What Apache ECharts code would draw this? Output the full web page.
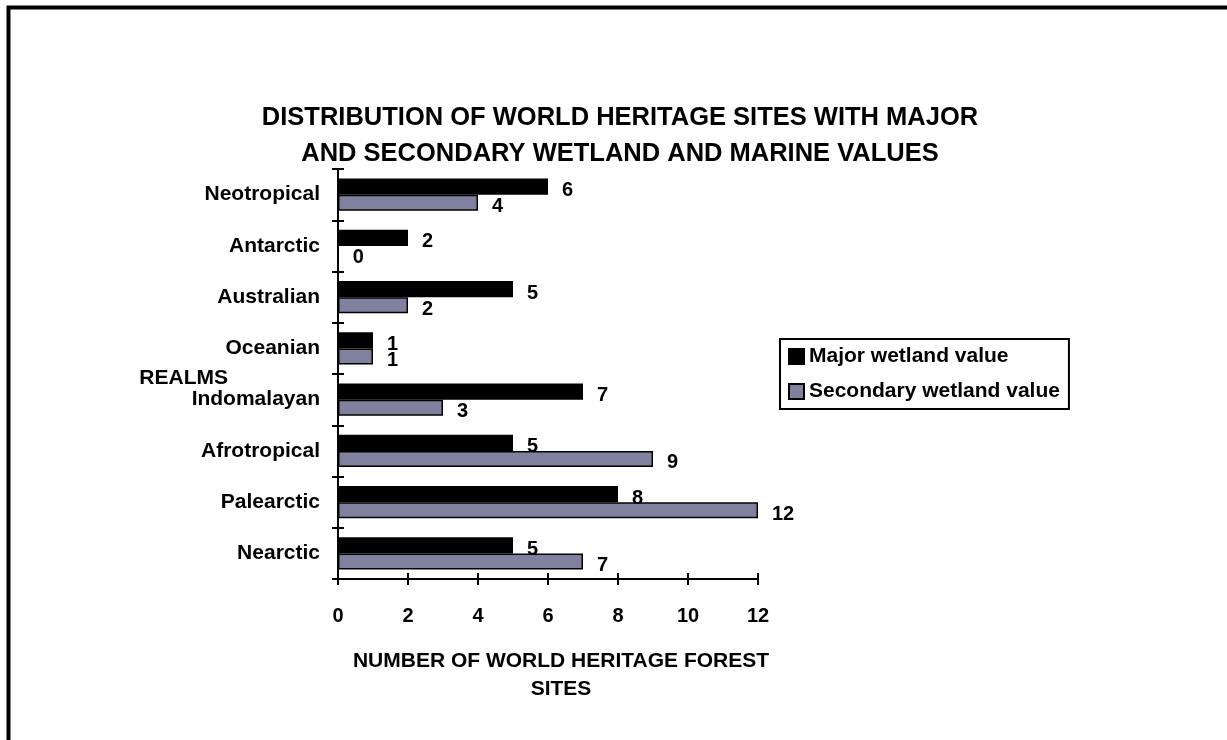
<!DOCTYPE html>
<html>
<head>
<meta charset="utf-8">
<script src="https://cdn.jsdelivr.net/npm/echarts@6/dist/echarts.min.js"></script>
<style>
  html, body { margin: 0; padding: 0; background: #fff; }
  #chart { width: 1227px; height: 740px; }
</style>
</head>
<body>
<div id="chart"></div>
<script>
// Categories listed top to bottom as they appear in the chart
const realms = ['Neotropical', 'Antarctic', 'Australian', 'Oceanian', 'Indomalayan', 'Afrotropical', 'Palearctic', 'Nearctic'];
const majorValues = [6, 2, 5, 1, 7, 5, 8, 5];
const secondaryValues = [4, 0, 2, 1, 3, 9, 12, 7];
const xTicks = { min: 0, max: 12, interval: 2 };
const seriesNames = ['Major wetland value', 'Secondary wetland value'];
const titleText = 'DISTRIBUTION OF WORLD HERITAGE SITES WITH MAJOR\nAND SECONDARY WETLAND AND MARINE VALUES';
const xAxisName = 'NUMBER OF WORLD HERITAGE FOREST\nSITES';
const yAxisName = 'REALMS';

const FONT = "'Liberation Sans', Arial, sans-serif";
const gridRect = { left: 338, right: 469, top: 169, bottom: 161 };

const chart = echarts.init(document.getElementById('chart'), null, { renderer: 'canvas' });

const labelStyle = {
  show: true,
  position: 'right',
  distance: 14,
  offset: [0, 4],
  color: '#000',
  fontFamily: FONT,
  fontWeight: 'bold',
  fontSize: 20
};

chart.setOption({
  backgroundColor: '#fff',
  animation: false,
  title: {
    text: titleText,
    left: 620,
    textAlign: 'center',
    top: 100,
    padding: 0,
    textStyle: { fontFamily: FONT, fontWeight: 'bold', fontSize: 25.5, lineHeight: 36, color: '#000' }
  },
  legend: {
    orient: 'vertical',
    left: 780,
    top: 339,
    padding: [7, 9, 7, 8],
    itemWidth: 15,
    itemHeight: 15,
    itemGap: 14,
    borderColor: '#000',
    borderWidth: 2,
    icon: 'rect',
    textStyle: { fontFamily: FONT, fontWeight: 'bold', fontSize: 21, color: '#000' },
    data: seriesNames
  },
  grid: [
    Object.assign({ containLabel: false }, gridRect),
    Object.assign({ containLabel: false }, gridRect)
  ],
  xAxis: [
    {
      type: 'value', gridIndex: 0,
      min: xTicks.min, max: xTicks.max, interval: xTicks.interval,
      name: xAxisName,
      nameLocation: 'middle',
      nameGap: 68,
      nameMoveOverlap: false,
      nameTextStyle: { fontFamily: FONT, fontWeight: 'bold', fontSize: 21, lineHeight: 28, color: '#000', padding: [0, 0, 0, 26], verticalAlign: 'top' },
      axisLine: { show: true, lineStyle: { color: '#000', width: 2 } },
      axisTick: { show: true, inside: false, length: 6, lineStyle: { color: '#000', width: 2 } },
      axisLabel: { margin: 27, fontFamily: FONT, fontWeight: 'bold', fontSize: 20, color: '#000' },
      splitLine: { show: false }
    },
    {
      type: 'value', gridIndex: 1,
      min: xTicks.min, max: xTicks.max, interval: xTicks.interval,
      axisLine: { show: false },
      axisTick: { show: true, inside: true, length: 6, lineStyle: { color: '#000', width: 2 } },
      axisLabel: { show: false },
      splitLine: { show: false }
    }
  ],
  yAxis: [
    {
      type: 'category', gridIndex: 0,
      data: realms,
      inverse: true,
      name: yAxisName,
      nameLocation: 'middle',
      nameRotate: 0,
      nameGap: 110,
      nameMoveOverlap: false,
      nameTextStyle: { fontFamily: FONT, fontWeight: 'bold', fontSize: 21, lineHeight: 8, color: '#000', align: 'right', verticalAlign: 'top' },
      axisLine: { show: true, lineStyle: { color: '#000', width: 2 } },
      axisTick: { show: true, inside: false, length: 6, lineStyle: { color: '#000', width: 2 } },
      axisLabel: { margin: 18, fontFamily: FONT, fontWeight: 'bold', fontSize: 21, color: '#000', padding: [5, 0, 0, 0] },
      splitLine: { show: false }
    },
    {
      type: 'category', gridIndex: 1,
      data: realms,
      inverse: true,
      axisLine: { show: false },
      axisTick: { show: true, inside: true, length: 6, lineStyle: { color: '#000', width: 2 } },
      axisLabel: { show: false },
      splitLine: { show: false }
    }
  ],
  series: [
    {
      name: seriesNames[0],
      type: 'bar',
      xAxisIndex: 0, yAxisIndex: 0,
      data: majorValues,
      barGap: '0%',
      barCategoryGap: '37%',
      itemStyle: { color: '#000000', borderColor: '#000', borderWidth: 1.5 },
      label: labelStyle
    },
    {
      name: seriesNames[1],
      type: 'bar',
      xAxisIndex: 0, yAxisIndex: 0,
      data: secondaryValues,
      barGap: '0%',
      barCategoryGap: '37%',
      itemStyle: { color: '#80809f', borderColor: '#000', borderWidth: 1.5 },
      label: labelStyle
    }
  ],
  graphic: [
    {
      type: 'rect',
      left: 6, top: 5,
      shape: { x: 0, y: 0, width: 1222, height: 800 },
      style: { fill: null, stroke: '#000', lineWidth: 4 },
      silent: true
    }
  ]
});
</script>
</body>
</html>
